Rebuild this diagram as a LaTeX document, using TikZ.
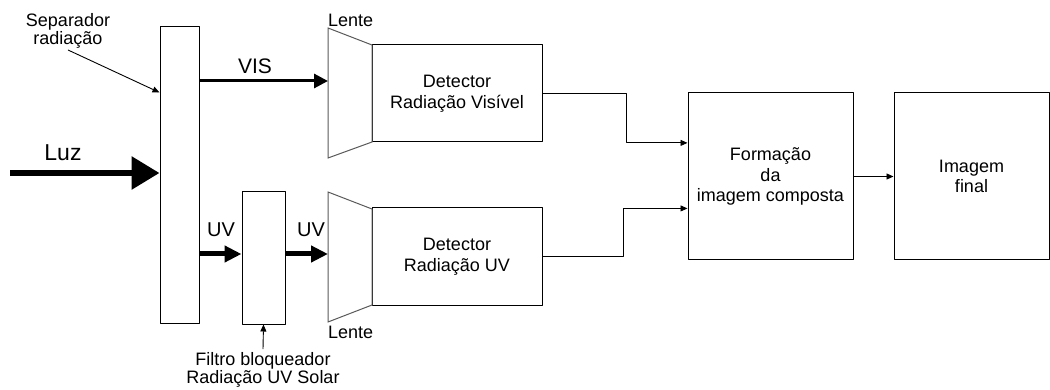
\documentclass[tikz,border=0pt]{standalone}
\usepackage{fontspec}
\setmainfont{Liberation Sans}
\usetikzlibrary{arrows.meta,calc}
\tikzset{
  blk/.style={draw, line width=1pt, inner sep=0pt, align=center},
  lens/.style={draw=black!65, line width=1pt, line join=miter},
  thin/.style={line width=0.9pt, -{Triangle[length=7pt,width=6pt]}},
}
\begin{document}
\begin{tikzpicture}[x=1pt, y=-1pt, font=\fontsize{18}{20.7}\selectfont, line join=round]
\useasboundingbox (0,0) rectangle (1050,390);
% blocos
\node[blk, minimum width=39, minimum height=296] (sep) at (179.5,175) {};
\node[blk, minimum width=43, minimum height=132] (filt) at (263.5,258) {};
\node[blk, minimum width=170, minimum height=97] (detV) at (457,93.5) {Detector\\Radiação Visível};
\node[blk, minimum width=170, minimum height=97] (detU) at (457,256.5) {Detector\\Radiação UV};
\node[blk, minimum width=165, minimum height=167] (form) at (770.5,176.5) {Formação\\da\\imagem composta};
\node[blk, minimum width=155, minimum height=167] (fin) at (971.5,176.5) {Imagem\\final};
% lentes
\path (328,28) coordinate (LV1) (372,45) coordinate (LV2) (372,142) coordinate (LV3) (328,158) coordinate (LV4)
(328,192) coordinate (LU1) (372,209) coordinate (LU2) (372,305) coordinate (LU3) (328,322) coordinate (LU4);
\draw[lens] (LV1)--(LV2)--(LV3)--(LV4)--cycle;
\draw[lens] (LU1)--(LU2)--(LU3)--(LU4)--cycle;
\node[anchor=base west, inner sep=0pt] (lenV) at (328,27) {Lente};
\node[anchor=base west, inner sep=0pt] (lenU) at (328,338) {Lente};
% textos
\node[align=center, inner sep=1pt] (seplbl) at (68,31) {Separador\\[-2pt]radiação};
\node[align=center] (filtlbl) at (263,370) {Filtro bloqueador\\[-3pt]Radiação UV Solar};
\node[font=\fontsize{23}{26}\selectfont] (luz) at (63,153) {Luz};
\node[font=\fontsize{21}{24}\selectfont] (vis) at (255,66.5) {VIS};
\node[font=\fontsize{20}{23}\selectfont] (uv1) at (221,229.5) {UV};
\node[font=\fontsize{20}{23}\selectfont] (uv2) at (311,229.5) {UV};
% setas
\path (10,173) coordinate (luz0) (328,81) coordinate (visE) (328,254) coordinate (uvE);
\draw[line width=6pt, -{Triangle[length=28pt,width=32pt]}] (luz0) -- (sep.west |- luz0);
\draw[line width=3pt, -{Triangle[length=14pt,width=14pt]}] (sep.east |- visE) -- (visE);
\draw[line width=5pt, -{Triangle[length=17pt,width=16pt]}] (sep.east |- uvE) -- (filt.west |- uvE);
\draw[line width=5pt, -{Triangle[length=17pt,width=16pt]}] (filt.east |- uvE) -- (uvE);
\draw[thin] (seplbl.south) -- ($(sep.north west)+(0,66)$);
\draw[thin] (filtlbl.north) -- (filt.south);
\draw[thin] (detV.east) -- (626,93.5) |- ($(form.north west)!0.3!(form.south west)$);
\draw[thin] (detU.east) -- (623,256.5) |- ($(form.north west)!0.69!(form.south west)$);
\draw[thin] (form.east) -- (fin.west);
\end{tikzpicture}
\end{document}
